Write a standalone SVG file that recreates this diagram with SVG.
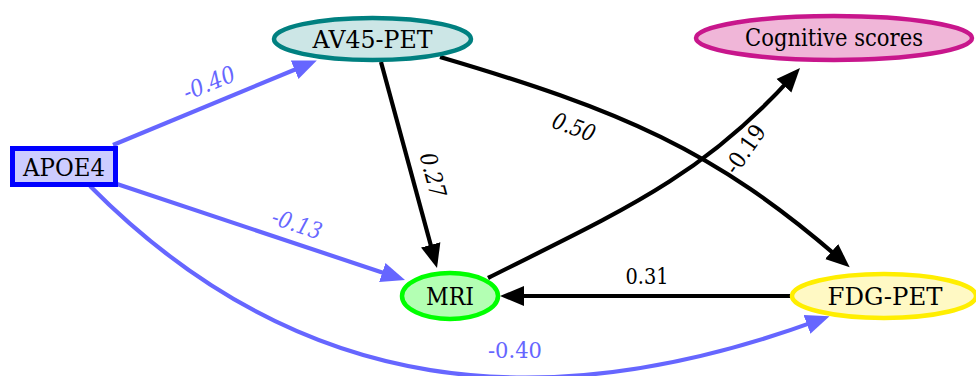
<svg xmlns="http://www.w3.org/2000/svg" width="976" height="376" viewBox="0 0 976 376">
<style>
text{font-family:'DejaVu Serif',serif}
.node text{font-size:25px;fill:#000;text-anchor:middle}
.node ellipse{stroke-width:4.5}
.lbl{font-size:23px;text-anchor:middle}
.blue{fill:#6666ff}
.black{fill:#000}
.it{font-style:italic}
.e{fill:none;stroke-width:4.2}
.eb{stroke:#6666ff}
.ek{stroke:#000}
</style>
<defs>
<marker id="ab" markerUnits="userSpaceOnUse" markerWidth="26" markerHeight="22" refX="11" refY="10" orient="auto" viewBox="0 0 26 20">
<path d="M0,0 L24,10 L0,20 Z" fill="#6666ff"/>
</marker>
<marker id="ak" markerUnits="userSpaceOnUse" markerWidth="26" markerHeight="22" refX="11" refY="10" orient="auto" viewBox="0 0 26 20">
<path d="M0,0 L24,10 L0,20 Z" fill="#000"/>
</marker>
</defs>
<rect width="976" height="376" fill="#fff"/>
<g id="connectors">
<path class="e eb" d="M113,145 L304.8,65.5" marker-end="url(#ab)"/>
<path class="e eb" d="M117,184 L392.7,276" marker-end="url(#ab)"/>
<path class="e eb" d="M90,186 C300,398 545,420 817.3,320.6" marker-end="url(#ab)"/>
<path class="e ek" d="M381,62 L433.6,255.5" marker-end="url(#ak)"/>
<path class="e ek" d="M440,57 C620,110 715,150 839.9,258.8" marker-end="url(#ak)"/>
<path class="e ek" d="M488,278 C619.5,212 701.6,177.2 791.3,77.6" marker-end="url(#ak)"/>
<path class="e ek" d="M790,296 L513,296" marker-end="url(#ak)"/>
<text class="lbl blue it" x="209" y="91" textLength="54" lengthAdjust="spacingAndGlyphs" transform="rotate(-22.5 209 83)">-0.40</text>
<text class="lbl blue it" x="297" y="232" textLength="51" lengthAdjust="spacingAndGlyphs" transform="rotate(18.4 297 224)">-0.13</text>
<text class="lbl blue" x="515" y="358" textLength="54" lengthAdjust="spacingAndGlyphs">-0.40</text>
<text class="lbl black it" x="433" y="183" textLength="45" lengthAdjust="spacingAndGlyphs" transform="rotate(75 433 175)">0.27</text>
<text class="lbl black it" x="574" y="135" textLength="44" lengthAdjust="spacingAndGlyphs" transform="rotate(20 574 127)">0.50</text>
<text class="lbl black" x="745" y="157" textLength="54" lengthAdjust="spacingAndGlyphs" transform="rotate(-55 745 149)">-0.19</text>
<text class="lbl black" x="647" y="284" textLength="43" lengthAdjust="spacingAndGlyphs">0.31</text>
</g>
<g id="APOE4" class="node">
<rect x="12.5" y="148.5" width="103" height="36" fill="#ccccff" stroke="#0000ff" stroke-width="5"/>
<text x="64" y="176" textLength="82" lengthAdjust="spacingAndGlyphs">APOE4</text>
</g>
<g id="AV45-PET" class="node">
<ellipse cx="372.5" cy="39" rx="98.5" ry="21" fill="#cce6e6" stroke="#008080"/>
<text x="372.5" y="48" textLength="120" lengthAdjust="spacingAndGlyphs">AV45-PET</text>
</g>
<g id="Cognitive" class="node">
<ellipse cx="834" cy="38" rx="138" ry="22" fill="#f0b6d8" stroke="#c8168c"/>
<text x="834" y="46" textLength="178" lengthAdjust="spacingAndGlyphs">Cognitive scores</text>
</g>
<g id="MRI" class="node">
<ellipse cx="450" cy="296" rx="48" ry="23" fill="#b3ffb3" stroke="#00ff00"/>
<text x="450" y="305" textLength="48" lengthAdjust="spacingAndGlyphs">MRI</text>
</g>
<g id="FDG-PET" class="node">
<ellipse cx="884" cy="296" rx="92" ry="22" fill="#fff9c4" stroke="#ffee00"/>
<text x="885" y="305" textLength="115" lengthAdjust="spacingAndGlyphs">FDG-PET</text>
</g>
</svg>
